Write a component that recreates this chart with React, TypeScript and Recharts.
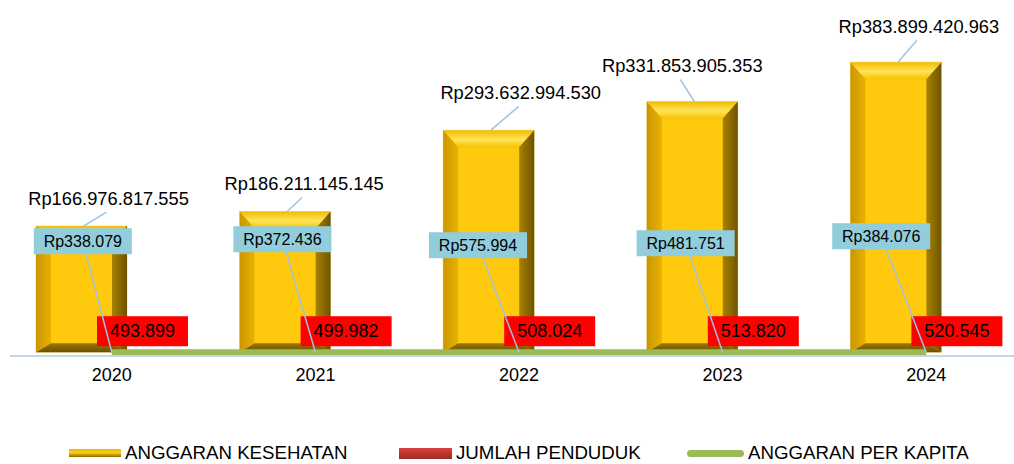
import { Bar, ComposedChart, LabelList, Legend, Line, XAxis, YAxis } from "recharts";

const years = ["2020", "2021", "2022", "2023", "2024"];
const anggaranKesehatan = [166976817555, 186211145145, 293632994530, 331853905353, 383899420963];
const jumlahPenduduk = [493899, 499982, 508024, 513820, 520545];
const anggaranPerKapita = [338079, 372436, 575994, 481751, 384076];

// where Excel's dragged labels sit, relative to the bar top / line point
const budgetLabelShift = [
  [27, -28],
  [19, -28],
  [32, -38],
  [-10, -36],
  [23, -36],
];
const perCapitaLabelShift = [
  [-29, -111],
  [-33, -113],
  [-41, -107],
  [-37, -109],
  [-45, -116],
];

const data = years.map((year, i) => ({
  year,
  anggaran: anggaranKesehatan[i],
  penduduk: jumlahPenduduk[i],
  perKapita: anggaranPerKapita[i],
}));

const FONT = "'Liberation Sans', Arial, sans-serif";
const LEADER = "#9DC3E6";

const dots = (v: number) => String(v).replace(/\B(?=(\d{3})+(?!\d))/g, ".");

function GoldBar(props: any) {
  const { x, y, width: w, height: h } = props;
  if (!w || !h || h < 30) return null;
  const s = 15;
  const t = 17;
  const b = 9;
  return (
    <g>
      <rect x={x} y={y} width={w} height={h} fill="#FFC90E" stroke="#F3DFA6" strokeWidth={1} />
      <polygon points={`${x},${y} ${x + w},${y} ${x + w - s},${y + t} ${x + s},${y + t}`} fill="url(#goldTop)" />
      <polygon points={`${x},${y} ${x + s},${y + t} ${x + s},${y + h - b} ${x},${y + h}`} fill="url(#goldLeft)" />
      <polygon points={`${x + w},${y} ${x + w},${y + h} ${x + w - s},${y + h - b} ${x + w - s},${y + t}`} fill="url(#goldRight)" />
      <polygon points={`${x},${y + h} ${x + s},${y + h - b} ${x + w - s},${y + h - b} ${x + w},${y + h}`} fill="url(#goldBottom)" />
    </g>
  );
}

function BudgetLabel(props: any) {
  const vb = props.viewBox ?? props;
  const i = props.index ?? 0;
  const cx = vb.x + vb.width / 2;
  const top = vb.y;
  const [dx, dy] = budgetLabelShift[i] ?? [0, -30];
  const tx = cx + dx;
  const ty = top + dy;
  return (
    <g>
      <line x1={cx + 2} y1={top} x2={tx - 2} y2={ty + 14} stroke={LEADER} strokeWidth={1.5} />
      <text x={tx} y={ty} textAnchor="middle" dominantBaseline="central" fontSize={18.3} fontFamily={FONT} fill="#000">
        Rp{dots(props.value)}
      </text>
    </g>
  );
}

function PopulationLabel(props: any) {
  const vb = props.viewBox ?? props;
  const x = vb.x;
  const w = vb.width;
  const top = vb.y;
  return (
    <g>
      <rect x={x} y={top - 36} width={w} height={30} fill="#FF0000" />
      <text x={x + w / 2} y={top - 21} textAnchor="middle" dominantBaseline="central" fontSize={18} fontFamily={FONT} fill="#000">
        {dots(props.value)}
      </text>
    </g>
  );
}

function PerCapitaLabel(props: any) {
  const vb = props.viewBox ?? props;
  const i = props.index ?? 0;
  const px = vb.x ?? props.x;
  const py = vb.y ?? props.y;
  const [dx, dy] = perCapitaLabelShift[i] ?? [0, -110];
  const bx = px + dx;
  const by = py + dy;
  return (
    <g>
      <line x1={bx} y1={by} x2={px} y2={py} stroke={LEADER} strokeWidth={1.5} />
      <rect x={bx - 49} y={by - 13} width={98} height={26} fill="#92CDDC" />
      <text x={bx} y={by} textAnchor="middle" dominantBaseline="central" fontSize={16} fontFamily={FONT} fill="#000">
        Rp{dots(props.value)}
      </text>
    </g>
  );
}

const legendItems = [
  {
    name: "ANGGARAN KESEHATAN",
    left: 69,
    swatch: {
      width: 52,
      height: 8,
      background: "linear-gradient(#E8B400, #FFD21A 45%, #8A6A00)",
    },
  },
  {
    name: "JUMLAH PENDUDUK",
    left: 399,
    swatch: {
      width: 53,
      height: 11,
      background: "linear-gradient(#D8463D, #B8322C 60%, #9E2A25)",
    },
  },
  {
    name: "ANGGARAN PER KAPITA",
    left: 687,
    swatch: { width: 57, height: 7, background: "#9BBB59", borderRadius: 4 },
  },
];

function ChartLegend() {
  return (
    <div style={{ position: "relative", width: 1014, height: 24, fontFamily: FONT }}>
      {legendItems.map((item) => (
        <div
          key={item.name}
          style={{
            position: "absolute",
            left: item.left,
            top: 0,
            height: 24,
            display: "flex",
            alignItems: "center",
            whiteSpace: "nowrap",
          }}
        >
          <span style={{ display: "inline-block", ...item.swatch }} />
          <span style={{ fontSize: 18.7, color: "#000", marginLeft: 4 }}>{item.name}</span>
        </div>
      ))}
    </div>
  );
}

export default function App() {
  return (
    <div
      style={{
        position: "absolute",
        left: 0,
        top: 0,
        width: 1014,
        height: 464,
        overflow: "hidden",
        background: "#fff",
        fontFamily: FONT,
      }}
    >
      <ComposedChart
        width={1028}
        height={464}
        data={data}
        margin={{ top: 50, right: 0, left: 10, bottom: 78 }}
        barGap={-30}
      >
        <defs>
          <linearGradient id="goldTop" x1="0" y1="0" x2="0" y2="1">
            <stop offset="0%" stopColor="#F2BC00" />
            <stop offset="55%" stopColor="#FFE45A" />
            <stop offset="100%" stopColor="#F6C200" />
          </linearGradient>
          <linearGradient id="goldLeft" x1="0" y1="0" x2="1" y2="0">
            <stop offset="0%" stopColor="#C99600" />
            <stop offset="100%" stopColor="#E8B200" />
          </linearGradient>
          <linearGradient id="goldRight" x1="0" y1="0" x2="1" y2="0">
            <stop offset="0%" stopColor="#A88100" />
            <stop offset="100%" stopColor="#6E5400" />
          </linearGradient>
          <linearGradient id="goldBottom" x1="0" y1="0" x2="0" y2="1">
            <stop offset="0%" stopColor="#9A7600" />
            <stop offset="100%" stopColor="#6B5100" />
          </linearGradient>
        </defs>
        <XAxis
          dataKey="year"
          axisLine={{ stroke: "#B4C7E7", strokeWidth: 1.5 }}
          tickLine={false}
          tickMargin={6}
          interval={0}
          tick={{ fontSize: 18, fill: "#000", fontFamily: FONT }}
        />
        <YAxis hide domain={[-5000000000, 400000000000]} />
        <Legend
          verticalAlign="middle"
          align="center"
          layout="horizontal"
          wrapperStyle={{ top: 441, left: 0, width: 1014, height: 24 }}
          content={() => <ChartLegend />}
        />
        <Bar dataKey="anggaran" name="ANGGARAN KESEHATAN" barSize={91} shape={GoldBar} isAnimationActive={false}>
          <LabelList dataKey="anggaran" content={(p: any) => <BudgetLabel {...p} />} />
        </Bar>
        <Bar dataKey="penduduk" name="JUMLAH PENDUDUK" barSize={91} fill="#C0392B" isAnimationActive={false}>
          <LabelList dataKey="penduduk" content={(p: any) => <PopulationLabel {...p} />} />
        </Bar>
        <Line
          dataKey="perKapita"
          name="ANGGARAN PER KAPITA"
          stroke="#9BBB59"
          strokeWidth={6}
          strokeLinecap="butt"
          dot={false}
          activeDot={false}
          isAnimationActive={false}
        >
          <LabelList dataKey="perKapita" content={(p: any) => <PerCapitaLabel {...p} />} />
        </Line>
      </ComposedChart>
    </div>
  );
}
